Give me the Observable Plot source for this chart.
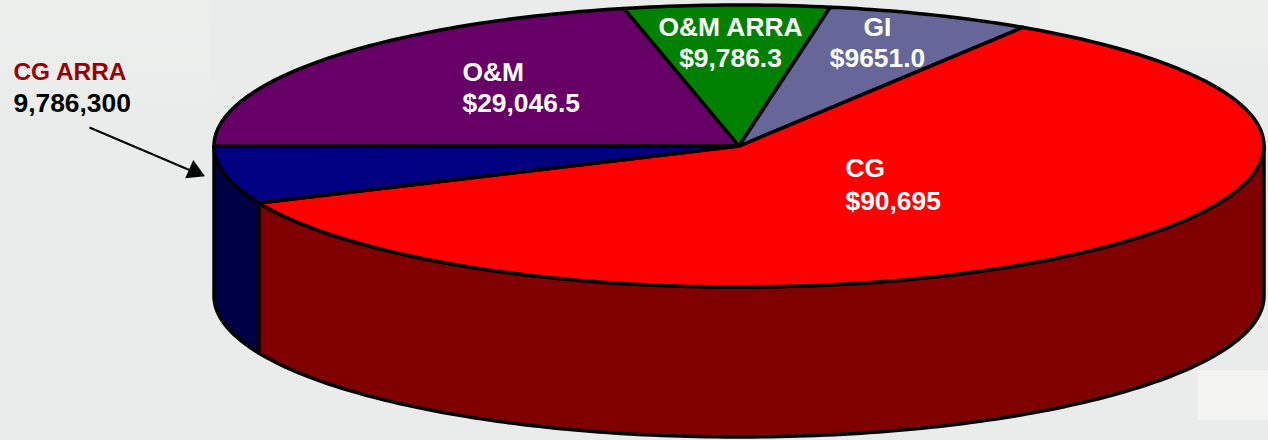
<!DOCTYPE html>
<html>
<head>
<meta charset="utf-8">
<script src="https://cdn.jsdelivr.net/npm/d3@7"></script>
<script src="https://cdn.jsdelivr.net/npm/@observablehq/plot@0.6"></script>
<style>
  html, body { margin: 0; padding: 0; }
  body {
    width: 1268px; height: 440px; overflow: hidden;
    background-color: #e9ecea;
    background-image:
      linear-gradient(#f3f4f1, #f3f4f1),
      linear-gradient(to bottom, #edefed, #e9ecea),
      linear-gradient(to bottom, #edefed, #e9ecea);
    background-size: 70px 50px, 210px 130px, 230px 80px;
    background-position: 1198px 370px, 0 0, 1040px 0;
    background-repeat: no-repeat;
  }
  svg { display: block; background: transparent !important; }
</style>
</head>
<body>
<script>
const names = ["CG", "CG ARRA", "O&M", "O&M ARRA", "GI"];
const amounts = ["$90,695", "9,786,300", "$29,046.5", "$9,786.3", "$9651.0"];
const rimShares = [59.3, 6.6, 21.5, 6.3, 6.3];   // share of the rim
const topColors = ["#ff0000", "#000080", "#660066", "#008000", "#666699"];
const sideColors = ["#800000", "#000045", null, null, null];

const cx = 738.5, cy = 145.5, rx = 525, ry = 141, depth = 150;
const startAngle = 57.3; // degrees above east: the GI / CG boundary

// Walk clockwise from the start angle through the shares.
const total = d3.sum(rimShares);
let running = startAngle;
const slices = names.map((name, i) => {
  const sweep = rimShares[i] / total * 360;
  const s = {name, i, a0: running, a1: running - sweep};
  running -= sweep;
  return s;
});
const rim = (deg, drop = 0) => {
  const r = deg * Math.PI / 180;
  return {x: cx + rx * Math.cos(r), y: cy - ry * Math.sin(r) + drop};
};
const arc = (a0, a1, drop = 0) => {
  const n = Math.max(2, Math.ceil(Math.abs(a1 - a0)));
  return d3.range(n + 1).map(k => rim(a0 + (a1 - a0) * k / n, drop));
};
const wedge = s => [{x: cx, y: cy}, ...arc(s.a0, s.a1)];
// The wall shows only along the front half of the rim (0 to -180 degrees).
const wall = s => {
  const a0 = Math.min(s.a0, 0), a1 = Math.max(s.a1, -180);
  return [...arc(a0, a1), ...arc(a1, a0, depth)];
};

const poly = (pts, fill) => Plot.line(pts, {
  x: "x", y: "y", fill, stroke: "#000", strokeWidth: 3.5, curve: "linear-closed", strokeLinejoin: "round"
});

const label = (text, x, y, fill, textAnchor, fontSize = 26.4) => Plot.text([text], {
  frameAnchor: "top-left", dx: x, dy: y, lineAnchor: "middle", textAnchor,
  fill, stroke: "none", fontSize, fontWeight: 700, fontFamily: "'Liberation Sans', Arial, sans-serif"
});

const walls = slices.filter(s => sideColors[s.i] && s.a1 < 0).map(s => poly(wall(s), sideColors[s.i]));
const tops = slices.map(s => poly(wedge(s), topColors[s.i]));

const chart = Plot.plot({
  width: 1268, height: 440,
  margin: 0,
  style: {background: "transparent"},
  x: {domain: [0, 1268], range: [0, 1268], axis: null},
  y: {domain: [0, 440], range: [0, 440], axis: null},
  marks: [
    ...walls,
    ...tops,
    label(names[2], 462, 72, "#fff", "start"),
    label(amounts[2], 462, 103, "#fff", "start"),
    label(names[3], 730, 27, "#fff", "middle"),
    label(amounts[3], 730, 58, "#fff", "middle"),
    label(names[4], 877, 27, "#fff", "middle"),
    label(amounts[4], 877, 58, "#fff", "middle"),
    label(names[0], 845, 168, "#fff", "start"),
    label(amounts[0], 845, 201, "#fff", "start"),
    label(names[1], 13, 72, "#990000", "start", 24.4),
    label(amounts[1], 13, 103, "#000", "start"),
    Plot.link([0], {x1: () => 89, y1: () => 127, x2: () => 190, y2: () => 170, stroke: "#000", strokeWidth: 2}),
    Plot.dot([0], {x: () => 194, y: () => 171, symbol: "triangle2", r: 9.5, rotate: 114, fill: "#000", stroke: "none"})
  ]
});
document.body.appendChild(chart);
</script>
</body>
</html>
